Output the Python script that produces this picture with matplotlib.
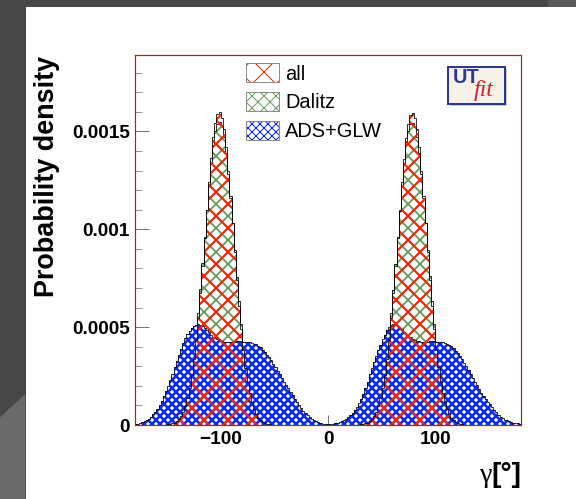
import numpy as np
import matplotlib
matplotlib.use("Agg")
import matplotlib.pyplot as plt
from matplotlib.patches import Rectangle, Patch, Polygon
from matplotlib.ticker import MultipleLocator, FuncFormatter

# 2-degree bins over gamma in [-180, 180]
edges = np.arange(-180, 181, 2)

# probability density per bin, in units of 1e-4
ads_glw = [0.05, 0.07, 0.1, 0.13, 0.18, 0.24, 0.32, 0.42, 0.54, 0.68,
           0.84, 1.02, 1.23, 1.47, 1.73, 2.0, 2.3, 2.62, 2.95, 3.28,
           3.6, 3.9, 4.17, 4.42, 4.63, 4.8, 4.95, 5.06, 5.13, 5.15,
           5.12, 5.05, 4.95, 4.85, 4.73, 4.62, 4.52, 4.44, 4.37, 4.32,
           4.28, 4.26, 4.25, 4.25, 4.25, 4.25, 4.26, 4.27, 4.27, 4.27,
           4.26, 4.25, 4.24, 4.22, 4.19, 4.16, 4.12, 4.05, 3.96, 3.85,
           3.73, 3.6, 3.46, 3.3, 3.13, 2.96, 2.78, 2.6, 2.41, 2.22,
           2.03, 1.88, 1.7, 1.52, 1.34, 1.17, 1.01, 0.86, 0.72, 0.6,
           0.49, 0.4, 0.32, 0.25, 0.19, 0.14, 0.1, 0.07, 0.05, 0.04,
           # gamma > 0
           0.03, 0.04, 0.06, 0.08, 0.11, 0.15, 0.2, 0.26, 0.33, 0.41,
           0.5, 0.62, 0.76, 0.93, 1.12, 1.34, 1.58, 1.88, 2.22, 2.58,
           2.9, 3.22, 3.53, 3.82, 4.1, 4.37, 4.62, 4.84, 4.99, 5.1,
           5.15, 5.13, 5.07, 4.98, 4.88, 4.77, 4.66, 4.56, 4.47, 4.4,
           4.34, 4.3, 4.27, 4.25, 4.25, 4.25, 4.26, 4.27, 4.27, 4.27,
           4.26, 4.25, 4.24, 4.22, 4.19, 4.15, 4.1, 4.02, 3.92, 3.8,
           3.67, 3.52, 3.36, 3.19, 3.01, 2.82, 2.62, 2.42, 2.22, 2.02,
           1.84, 1.66, 1.5, 1.35, 1.2, 1.05, 0.9, 0.77, 0.64, 0.53,
           0.43, 0.35, 0.28, 0.23, 0.19, 0.15, 0.12, 0.1, 0.08, 0.06]

dalitz_left = [0.015, 0.025, 0.04, 0.07, 0.11, 0.17, 0.26, 0.39, 0.57, 0.82,
               1.15, 1.58, 2.13, 2.81, 3.64, 4.61, 5.71, 6.94, 8.25, 9.61,
               10.96, 12.2, 13.4, 14.3, 15.0, 15.4, 15.5, 15.25, 14.7, 13.9,
               12.8, 11.6, 10.3, 8.93, 7.58, 6.31, 5.15, 4.1, 3.2, 2.45,
               1.84, 1.35, 0.97, 0.68, 0.47, 0.32, 0.21, 0.135, 0.085, 0.05,
               0.03, 0.02]
dalitz_right = [0.015, 0.025, 0.04, 0.07, 0.11, 0.17, 0.26, 0.38, 0.56, 0.8,
                1.13, 1.56, 2.11, 2.8, 3.62, 4.6, 5.7, 6.92, 8.23, 9.6,
                10.95, 12.2, 13.4, 14.3, 15.0, 15.4, 15.45, 15.2, 14.7, 13.9,
                12.8, 11.6, 10.3, 8.95, 7.6, 6.33, 5.17, 4.12, 3.22, 2.47,
                1.86, 1.36, 0.98, 0.69, 0.48, 0.33, 0.22, 0.14, 0.09, 0.05,
                0.03, 0.02]
all_left = [0.01, 0.02, 0.03, 0.05, 0.08, 0.12, 0.19, 0.3, 0.45, 0.67,
            0.97, 1.37, 1.88, 2.54, 3.36, 4.34, 5.46, 6.73, 8.11, 9.56,
            11.0, 12.4, 13.65, 14.7, 15.45, 15.9, 16.0, 15.7, 15.1, 14.2,
            13.0, 11.7, 10.3, 8.83, 7.41, 6.08, 4.88, 3.83, 2.93, 2.19,
            1.61, 1.16, 0.81, 0.55, 0.37, 0.24, 0.155, 0.1, 0.06, 0.035,
            0.02, 0.01]
all_right = [0.01, 0.02, 0.03, 0.05, 0.08, 0.12, 0.19, 0.29, 0.44, 0.66,
             0.96, 1.36, 1.87, 2.53, 3.35, 4.33, 5.45, 6.72, 8.1, 9.55,
             11.0, 12.4, 13.6, 14.65, 15.4, 15.85, 15.95, 15.7, 15.1, 14.2,
             13.0, 11.7, 10.3, 8.85, 7.43, 6.1, 4.9, 3.85, 2.95, 2.2,
             1.62, 1.17, 0.82, 0.56, 0.38, 0.25, 0.16, 0.1, 0.06, 0.035,
             0.02, 0.01]

# peaks sit in bins 13..64 of each half (centres -153..-51 and 27..129)
dalitz = [0] * 13 + dalitz_left + [0] * 25 + [0] * 13 + dalitz_right + [0] * 25
all_comb = [0] * 13 + all_left + [0] * 25 + [0] * 13 + all_right + [0] * 25

labels = ["all", "Dalitz", "ADS+GLW"]
y_ticks = [0, 0.0005, 0.001, 0.0015]
x_ticks = [-100, 0, 100]

scale = 1e-4
red, green, blue = "#ff2200", "#6a9a5a", "#0b2bf0"

plt.rcParams["font.family"] = ["Liberation Sans", "DejaVu Sans"]

fig = plt.figure(figsize=(8, 499 / 72), dpi=72, facecolor="white")

# slide background around the white panel
fig.add_artist(Rectangle((0, 0), 25 / 576, 1, transform=fig.transFigure,
                         color="#474747", zorder=-5))
fig.add_artist(Rectangle((0, 1 - 6 / 499), 1, 6 / 499, transform=fig.transFigure,
                         color="#474747", zorder=-5))
fig.add_artist(Rectangle((548 / 576, 1 - 6 / 499), 28 / 576, 6 / 499,
                         transform=fig.transFigure, color="#5a5a5a", zorder=-4))
fig.add_artist(Polygon([(0, 0), (25 / 576, 0), (25 / 576, 1 - 395 / 499), (0, 1 - 418 / 499)],
                       closed=True, transform=fig.transFigure, color="#6a6a6a", zorder=-4))

ax = fig.add_axes([135 / 576, 1 - 425 / 499, 386 / 576, 370 / 499])


def hatched(values, hatch, color, lw, face="none", z=1):
    vals = np.array(values) * scale
    with plt.rc_context({"hatch.linewidth": lw}):
        p = ax.stairs(vals, edges, fill=True, hatch=hatch,
                      facecolor=face, edgecolor=color, linewidth=0, zorder=z)
    if hasattr(p, "set_hatch_linewidth"):
        p.set_hatch_linewidth(lw)
    ax.stairs(vals, edges, color="black", linewidth=0.8, zorder=z + 0.5)
    return p


hatched(dalitz, "xx", green, 1.8, face="white", z=1)
hatched(ads_glw, "xxx", blue, 2.6, face="white", z=2)
hatched(all_comb, "x", red, 2.0, face="none", z=3)

ax.set_xlim(-180, 180)
ax.set_ylim(0, 0.00189)
ax.set_xticks(x_ticks)
ax.set_yticks(y_ticks)
ax.yaxis.set_minor_locator(MultipleLocator(0.0001))
ax.yaxis.set_major_formatter(FuncFormatter(lambda v, p: "0" if v == 0 else f"{v:g}"))
ax.tick_params(direction="in", which="both", top=False, right=False, color="#555555")
ax.tick_params(axis="y", which="major", length=14, pad=5)
ax.tick_params(axis="y", which="minor", length=7)
ax.tick_params(axis="x", which="major", length=10, pad=6)
for lab in ax.get_xticklabels() + ax.get_yticklabels():
    lab.set_fontsize(19)
    lab.set_fontweight("bold")
for s in ax.spines.values():
    s.set_color("#8b3030")
    s.set_linewidth(1.2)

# legend with hatched boxes and grey borders
handles = []
for col, h, lw in [(red, "x", 2.0), (green, "xx", 1.8), (blue, "xxx", 2.6)]:
    with plt.rc_context({"hatch.linewidth": lw}):
        hp = Patch(facecolor="white", edgecolor=col, hatch=h, linewidth=0)
    if hasattr(hp, "set_hatch_linewidth"):
        hp.set_hatch_linewidth(lw)
    handles.append((hp, Patch(facecolor="none", edgecolor="#8a8a8a", linewidth=1)))
ax.legend(handles, labels, loc="upper left", bbox_to_anchor=(0.2876, 0.978),
          frameon=False, fontsize=20, handlelength=1.65, handleheight=1.1,
          labelspacing=0.42, handletextpad=0.3, borderpad=0, borderaxespad=0)

# UTfit logo
ax.add_patch(Rectangle((0.815, 0.862), 0.148, 0.1, transform=ax.transAxes,
                       facecolor="#c8c8c8", edgecolor="none", zorder=5))
ax.add_patch(Rectangle((0.811, 0.868), 0.148, 0.1, transform=ax.transAxes,
                       facecolor="#f6f2e8", edgecolor="#2b3990", linewidth=2, zorder=6))
ax.text(0.822, 0.940, "UT", transform=ax.transAxes, fontsize=20, fontweight="bold",
        color="#2b3990", va="center", ha="left", zorder=7)
ax.text(0.878, 0.905, "fit", transform=ax.transAxes, fontsize=24, style="italic",
        family="Liberation Serif", color="#d4202a", va="center", ha="left", zorder=7)

# axis titles
fig.text(47 / 576, 1 - 176 / 499, "Probability density", rotation=90, fontsize=27,
         fontweight="bold", ha="center", va="center")
fig.text(521 / 576, 1 - 482 / 499, "[°]", fontsize=28, fontweight="bold",
         ha="right", va="baseline")
fig.text(491 / 576, 1 - 482 / 499, "γ", fontsize=28, family="Liberation Serif",
         ha="right", va="baseline")

fig.savefig("out.png", dpi=72, facecolor=fig.get_facecolor())
